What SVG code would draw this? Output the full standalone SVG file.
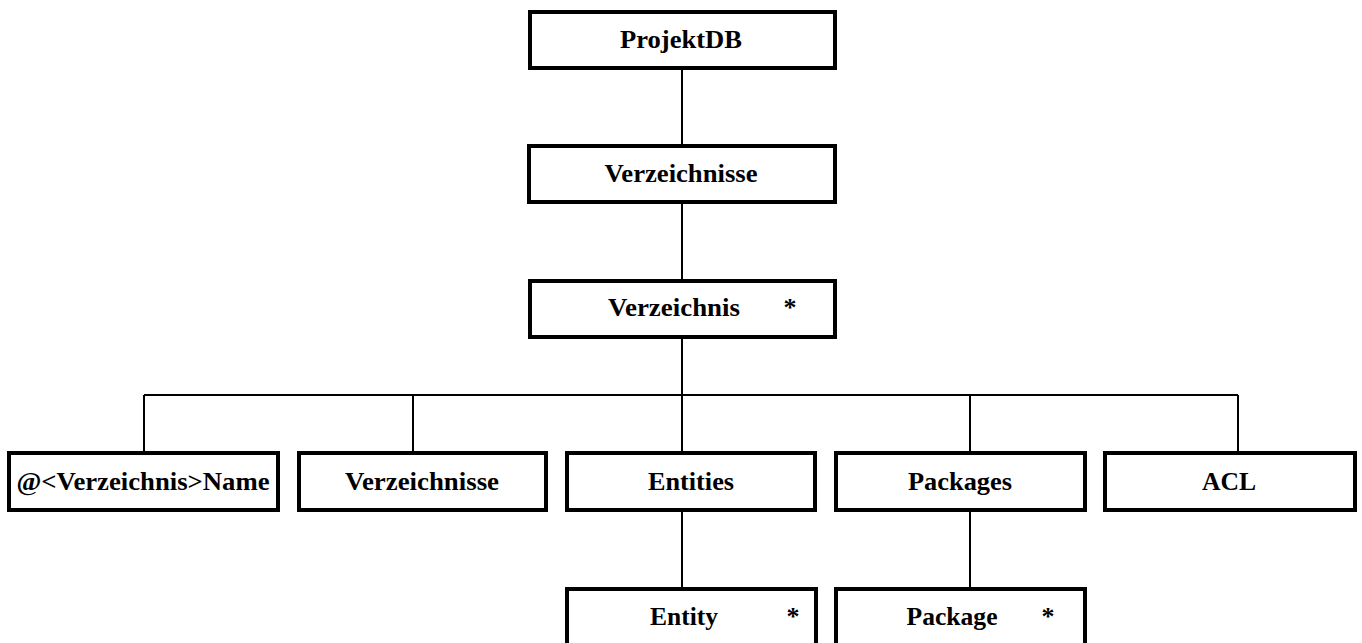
<svg xmlns="http://www.w3.org/2000/svg" width="1362" height="643" viewBox="0 0 1362 643">
  <style>
    .box { fill: #ffffff; stroke: #000000; stroke-width: 4; }
    .lbl { font-family: "Liberation Serif", "Times New Roman", serif; font-weight: bold; font-size: 26px; fill: #000000; text-anchor: middle; }
    .star { font-family: "Liberation Serif", "Times New Roman", serif; font-weight: bold; font-size: 26px; fill: #000000; text-anchor: middle; }
    .conn { stroke: #000000; stroke-width: 2; fill: none; }
  </style>
  <rect width="1362" height="643" fill="#ffffff"/>

  <g id="connectors">
    <line class="conn" x1="682" y1="70" x2="682" y2="144"/>
    <line class="conn" x1="682" y1="204" x2="682" y2="279"/>
    <line class="conn" x1="682" y1="339" x2="682" y2="452"/>
    <line class="conn" x1="144" y1="395" x2="1238" y2="395"/>
    <line class="conn" x1="144" y1="395" x2="144" y2="452"/>
    <line class="conn" x1="413" y1="395" x2="413" y2="452"/>
    <line class="conn" x1="970" y1="395" x2="970" y2="452"/>
    <line class="conn" x1="1238" y1="395" x2="1238" y2="452"/>
    <line class="conn" x1="682" y1="512" x2="682" y2="587"/>
    <line class="conn" x1="970" y1="512" x2="970" y2="587"/>
  </g>

  <g id="projektdb">
    <rect class="box" x="530" y="12" width="305" height="56"/>
    <text class="lbl" x="681" y="48" textLength="122" lengthAdjust="spacingAndGlyphs">ProjektDB</text>
  </g>

  <g id="verzeichnisse-root">
    <rect class="box" x="529" y="146" width="306" height="56"/>
    <text class="lbl" x="681" y="182" textLength="153" lengthAdjust="spacingAndGlyphs">Verzeichnisse</text>
  </g>

  <g id="verzeichnis">
    <rect class="box" x="530" y="281" width="305" height="56"/>
    <text class="lbl" x="674" y="316" textLength="132" lengthAdjust="spacingAndGlyphs">Verzeichnis</text>
    <text class="star" x="790" y="316">*</text>
  </g>

  <g id="name">
    <rect class="box" x="9" y="453" width="269" height="57"/>
    <text class="lbl" x="143" y="490" textLength="253" lengthAdjust="spacingAndGlyphs">@&lt;Verzeichnis&gt;Name</text>
  </g>

  <g id="verzeichnisse-child">
    <rect class="box" x="299" y="453" width="247" height="57"/>
    <text class="lbl" x="422" y="490" textLength="154" lengthAdjust="spacingAndGlyphs">Verzeichnisse</text>
  </g>

  <g id="entities">
    <rect class="box" x="567" y="453" width="248" height="57"/>
    <text class="lbl" x="691" y="490" textLength="86" lengthAdjust="spacingAndGlyphs">Entities</text>
  </g>

  <g id="packages">
    <rect class="box" x="836" y="453" width="249" height="57"/>
    <text class="lbl" x="960" y="490" textLength="104" lengthAdjust="spacingAndGlyphs">Packages</text>
  </g>

  <g id="acl">
    <rect class="box" x="1105" y="453" width="250" height="57"/>
    <text class="lbl" x="1229" y="490" textLength="54" lengthAdjust="spacingAndGlyphs">ACL</text>
  </g>

  <g id="entity">
    <rect class="box" x="567" y="589" width="249" height="70"/>
    <text class="lbl" x="684" y="625" textLength="68" lengthAdjust="spacingAndGlyphs">Entity</text>
    <text class="star" x="793" y="625">*</text>
  </g>

  <g id="package">
    <rect class="box" x="836" y="589" width="249" height="70"/>
    <text class="lbl" x="952" y="625" textLength="91" lengthAdjust="spacingAndGlyphs">Package</text>
    <text class="star" x="1048" y="625">*</text>
  </g>
</svg>
